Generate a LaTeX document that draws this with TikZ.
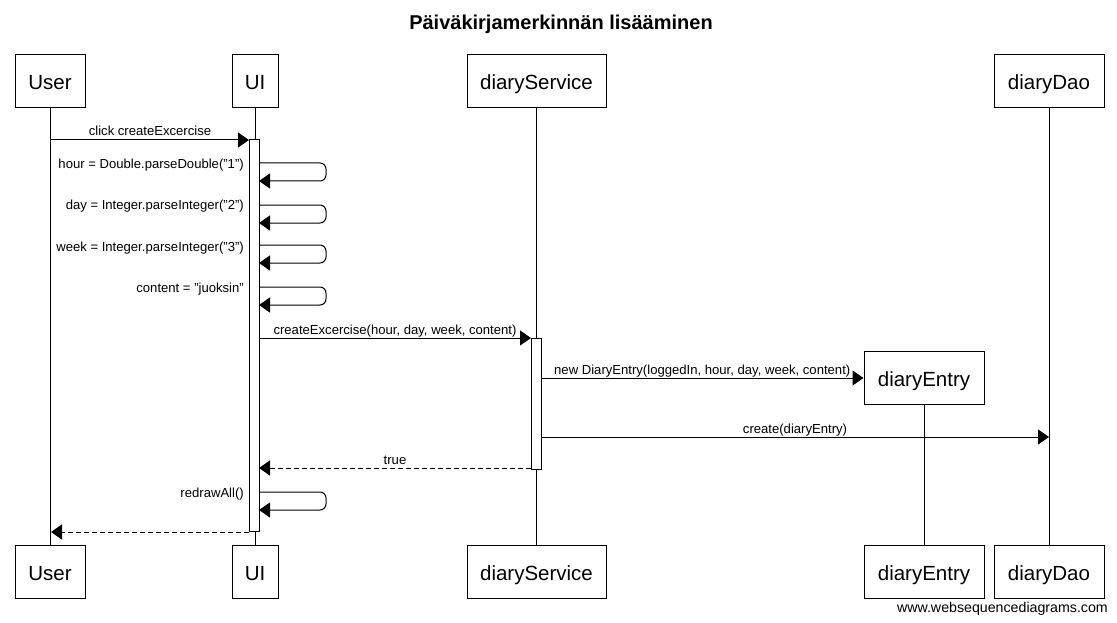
\documentclass[tikz,border=0pt]{standalone}
\usepackage{fontspec}
\setmainfont{Liberation Sans}
\usetikzlibrary{arrows.meta}
\begin{document}
\begin{tikzpicture}[x=1pt,y=-1pt,
  actor/.style={draw,line width=1pt,minimum height=53pt,inner sep=0pt,text height=17pt,text depth=0pt,font=\fontsize{20.5}{24}\selectfont},
  lifeline/.style={line width=1pt},
  actbar/.style={draw,fill=white,line width=1pt,minimum width=10pt,inner sep=0pt},
  msg/.style={line width=1pt,-{Triangle[length=11pt,width=15pt]}},
  ret/.style={msg,dash pattern=on 5pt off 3pt},
  self/.style={msg,rounded corners=6pt},
  lbl/.style={font=\fontsize{13.1}{15}\selectfont,inner sep=0pt,anchor=base,yshift=4pt},
  lblr/.style={font=\fontsize{13.1}{15}\selectfont,inner sep=0pt,anchor=base east}]
\useasboundingbox (0,0) rectangle (1117,623);
\node[font=\bfseries\fontsize{20}{24}\selectfont,anchor=base,inner sep=0pt] (title) at (561,30) {Päiväkirjamerkinnän lisääminen};
% top actors
\node[actor,minimum width=70pt] (userT) at (50,81.5) {User};
\node[actor,minimum width=46pt] (uiT) at (255,81.5) {UI};
\node[actor,minimum width=139pt] (svcT) at (536.5,81.5) {diaryService};
\node[actor,minimum width=110pt] (daoT) at (1049,81.5) {diaryDao};
\node[actor,minimum width=120pt] (entT) at (924,377.5) {diaryEntry};
% bottom actors
\node[actor,minimum width=70pt] (userB) at (50,572) {User};
\node[actor,minimum width=46pt] (uiB) at (255,572) {UI};
\node[actor,minimum width=139pt] (svcB) at (536.5,572) {diaryService};
\node[actor,minimum width=120pt] (entB) at (924,572) {diaryEntry};
\node[actor,minimum width=110pt] (daoB) at (1049,572) {diaryDao};
% lifelines
\draw[lifeline] (userT) -- (userB);
\draw[lifeline] (uiT) -- (uiB);
\draw[lifeline] (svcT) -- (svcB);
\draw[lifeline] (daoT) -- (daoB);
\draw[lifeline] (entT) -- (entB);
% activation bars
\node[actbar,minimum height=391pt] (uiAct) at (254,335.5) {};
\node[actbar,minimum height=131pt] (svcAct) at (536,403.5) {};
% coordinates
\coordinate (u1) at (51,140);
\coordinate (a1) at (249,140);
\foreach \n/\y in {s1/163,s2/205,s3/245,s4/287,s5/492}{
  \coordinate (\n a) at (259,\y);
  \coordinate (\n b) at (326,\y);
  \coordinate (\n c) at (326,\y+18);
  \coordinate (\n d) at (259,\y+18);
}
\coordinate (c1a) at (259,338);
\coordinate (c1b) at (531,338);
\coordinate (n1a) at (541,378);
\coordinate (c2a) at (541,437);
\coordinate (c2b) at (1049,437);
\coordinate (r1a) at (531,468);
\coordinate (r1b) at (259,468);
\coordinate (r2a) at (249,532);
\coordinate (r2b) at (51,532);
% messages
\draw[msg] (u1) -- (a1) node[lbl,pos=0.5] (m1) {click createExcercise};
\draw[self] (s1a) -- (s1b) -- (s1c) -- (s1d);
\node[lblr] (l1) at (244,168) {hour = Double.parseDouble("1")};
\draw[self] (s2a) -- (s2b) -- (s2c) -- (s2d);
\node[lblr] (l2) at (244,210) {day = Integer.parseInteger("2")};
\draw[self] (s3a) -- (s3b) -- (s3c) -- (s3d);
\node[lblr] (l3) at (244,251) {week = Integer.parseInteger("3")};
\draw[self] (s4a) -- (s4b) -- (s4c) -- (s4d);
\node[lblr] (l4) at (244,292) {content = "juoksin"};
\draw[msg] (c1a) -- (c1b) node[lbl,pos=0.5] (m2) {createExcercise(hour, day, week, content)};
\draw[msg] (n1a) -- (entT.west |- n1a) node[lbl,pos=0.5] (m3) {new DiaryEntry(loggedIn, hour, day, week, content)};
\draw[msg] (c2a) -- (c2b) node[lbl,pos=0.5] (m4) {create(diaryEntry)};
\draw[ret] (r1a) -- (r1b) node[lbl,pos=0.5] (m5) {true};
\draw[self] (s5a) -- (s5b) -- (s5c) -- (s5d);
\node[lblr] (l5) at (244,497) {redrawAll()};
\draw[ret] (r2a) -- (r2b);
\node[font=\fontsize{14.2}{16}\selectfont,anchor=base east,inner sep=0pt] (wsd) at (1108,612) {www.websequencediagrams.com};
\end{tikzpicture}
\end{document}
